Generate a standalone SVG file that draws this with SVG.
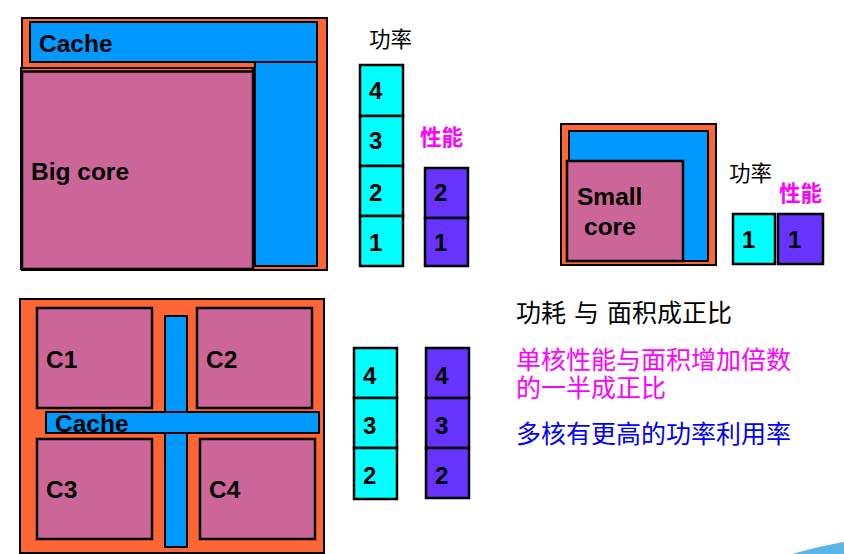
<svg xmlns="http://www.w3.org/2000/svg" width="844" height="554" viewBox="0 0 844 554">
<style>
.o{fill:#FF6633;stroke:#000;stroke-width:2}
.b{fill:#0099FF;stroke:#000;stroke-width:2}
.p{fill:#CC6699;stroke:#000;stroke-width:2.5}
.c{fill:#00FFFF;stroke:#000;stroke-width:2.5}
.v{fill:#6633FF;stroke:#000;stroke-width:2.5}
.lb{font-family:"Liberation Sans",Arial,sans-serif;font-weight:bold;font-size:24.5px;fill:#000}
.n{font-family:"Liberation Sans",Arial,sans-serif;font-weight:bold;font-size:24px;fill:#000}
.cj{font-family:"Noto Sans CJK SC",sans-serif;font-size:21.5px}
.cjb{font-family:"Noto Sans CJK SC",sans-serif;font-size:25px}
</style>
<rect width="844" height="554" fill="#fff"/>
<g id="big-core-chip">
<rect class="o" x="22" y="18" width="305" height="252"/>
<rect class="b" x="30" y="22" width="287" height="40"/>
<rect class="b" x="255" y="62" width="62" height="204"/>
<rect class="o" x="21" y="68" width="232" height="201"/>
<rect class="p" x="22" y="71.5" width="231" height="197.5"/>
<text class="lb" x="39" y="52">Cache</text>
<text class="lb" x="31" y="180">Big core</text>
</g>
<g id="big-power">
<text class="cj" x="369" y="47" fill="#000">功率</text>
<rect class="c" x="360" y="65" width="43" height="51"/>
<rect class="c" x="360" y="116" width="43" height="50"/>
<rect class="c" x="360" y="166" width="43" height="50"/>
<rect class="c" x="360" y="216" width="43" height="50"/>
<text class="n" x="369" y="99">4</text>
<text class="n" x="369" y="149">3</text>
<text class="n" x="369" y="201">2</text>
<text class="n" x="369" y="251">1</text>
</g>
<g id="big-perf">
<text class="cj" x="420" y="145" fill="#FF00FF" font-weight="bold">性能</text>
<rect class="v" x="425" y="168" width="43" height="50"/>
<rect class="v" x="425" y="218" width="43" height="48"/>
<text class="n" x="434" y="201">2</text>
<text class="n" x="434" y="251">1</text>
</g>
<g id="small-core-chip">
<rect class="o" x="561" y="124" width="155" height="141"/>
<rect class="b" x="569" y="131" width="139" height="130"/>
<rect class="p" x="567" y="161" width="116" height="100"/>
<text class="lb" x="577" y="205">Small</text>
<text class="lb" x="584" y="235">core</text>
</g>
<g id="small-power-perf">
<text class="cj" x="729" y="181" fill="#000">功率</text>
<text class="cj" x="779" y="201" fill="#FF00FF" font-weight="bold">性能</text>
<rect class="c" x="733" y="214" width="42" height="50"/>
<rect class="v" x="778" y="214" width="45" height="50"/>
<text class="n" x="742" y="248">1</text>
<text class="n" x="788" y="248">1</text>
</g>
<g id="multi-core-chip">
<rect class="o" x="20" y="299" width="304" height="254"/>
<rect class="p" x="37" y="308" width="115" height="100"/>
<rect class="p" x="197" y="308" width="115" height="100"/>
<rect class="p" x="37" y="439" width="115" height="100"/>
<rect class="p" x="200" y="439" width="115" height="100"/>
<rect class="b" x="165" y="316" width="22" height="231"/>
<rect class="b" x="46" y="412" width="273" height="21"/>
<text class="lb" x="46" y="368">C1</text>
<text class="lb" x="206" y="368">C2</text>
<text class="lb" x="55" y="432">Cache</text>
<text class="lb" x="46" y="498">C3</text>
<text class="lb" x="209" y="498">C4</text>
</g>
<g id="multi-power">
<rect class="c" x="354" y="348" width="43" height="50"/>
<rect class="c" x="354" y="398" width="43" height="50"/>
<rect class="c" x="354" y="448" width="43" height="51"/>
<text class="n" x="363" y="384">4</text>
<text class="n" x="363" y="434">3</text>
<text class="n" x="363" y="484">2</text>
</g>
<g id="multi-perf">
<rect class="v" x="426" y="348" width="43" height="50"/>
<rect class="v" x="426" y="398" width="43" height="50"/>
<rect class="v" x="426" y="448" width="43" height="50"/>
<text class="n" x="435" y="384">4</text>
<text class="n" x="435" y="434">3</text>
<text class="n" x="435" y="484">2</text>
</g>
<g id="notes">
<text class="cjb" fill="#000"><tspan x="516" y="322">功耗</tspan><tspan x="574" y="322">与</tspan><tspan x="607" y="322">面积成正比</tspan></text>
<text class="cjb" fill="#FF00FF"><tspan x="516" y="369">单核性能与面积增加倍数</tspan><tspan x="516" y="397">的一半成正比</tspan></text>
<text class="cjb" x="516" y="443" fill="#0000FF">多核有更高的功率利用率</text>
</g>
<path d="M792 554 Q820 546 844 542 L844 554 Z" fill="#5AB4E6"/>
<g id="connectors"></g>
</svg>
